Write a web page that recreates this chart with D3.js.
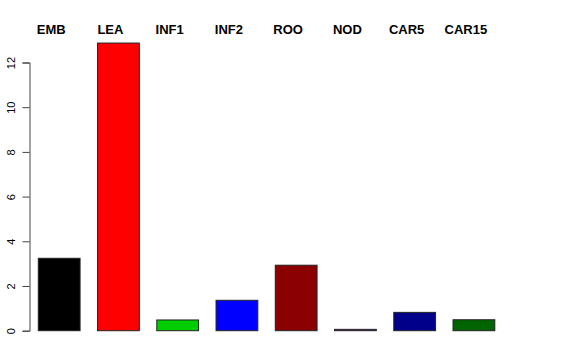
<!DOCTYPE html>
<html>
<head>
<meta charset="utf-8">
<script src="https://cdn.jsdelivr.net/npm/d3@7"></script>
<style>
  body { margin: 0; background: #fff; }
  svg { display: block; font-family: "Liberation Sans", Arial, sans-serif; }
</style>
</head>
<body>
<div id="container"></div>
<script>
/* DATA */
const categories = ["EMB", "LEA", "INF1", "INF2", "ROO", "NOD", "CAR5", "CAR15"];
const values = [3.24, 12.87, 0.48, 1.36, 2.93, 0.06, 0.82, 0.49];
const colors = ["#000000", "#ff0000", "#00cd00", "#0000ff", "#8b0000", "#551a8b", "#00008b", "#006400"];
const yTicks = [0, 2, 4, 6, 8, 10, 12];

/* CONSTANTS */
const width = 576, height = 360;

const svg = d3.select("#container").append("svg")
  .attr("width", width)
  .attr("height", height);

/* SCALES */
const xScale = d3.scaleBand()
  .domain(categories)
  .range([38.3, 494.8])
  .paddingInner(0.295)
  .paddingOuter(0);

const yScale = d3.scaleLinear()
  .domain([0, 12])
  .range([330.7, 62.5]);

/* BARS */
svg.selectAll("rect.bar")
  .data(categories)
  .enter()
  .append("rect")
    .attr("class", "bar")
    .attr("x", d => xScale(d))
    .attr("width", xScale.bandwidth())
    .attr("y", (d, i) => yScale(values[i]))
    .attr("height", (d, i) => yScale(0) - yScale(values[i]))
    .attr("fill", (d, i) => colors[i])
    .attr("stroke", "#222")
    .attr("stroke-width", 1);

/* Y AXIS */
const yAxis = d3.axisLeft(yScale)
  .tickValues(yTicks)
  .tickSize(7)
  .tickPadding(3);

const gy = svg.append("g")
  .attr("transform", "translate(29.5,0)")
  .call(yAxis);

gy.select(".domain").attr("stroke", "#444");
gy.selectAll(".tick line").attr("stroke", "#444");
gy.selectAll(".tick text")
  .attr("font-size", 11)
  .attr("font-family", "Liberation Sans, Arial, sans-serif")
  .attr("fill", "#000")
  .attr("text-anchor", "middle")
  .attr("transform", "translate(-14.5,0) rotate(-90)")
  .attr("x", 0)
  .attr("dy", 0)
  .attr("y", 0);

/* TOP LABELS */
svg.selectAll("text.cat")
  .data(categories)
  .enter()
  .append("text")
    .attr("class", "cat")
    .attr("x", d => xScale(d) + xScale.bandwidth() / 2 - 8)
    .attr("y", 34)
    .attr("text-anchor", "middle")
    .attr("font-weight", "bold")
    .attr("font-size", 13)
    .attr("fill", "#000")
    .text(d => d);
</script>
</body>
</html>
